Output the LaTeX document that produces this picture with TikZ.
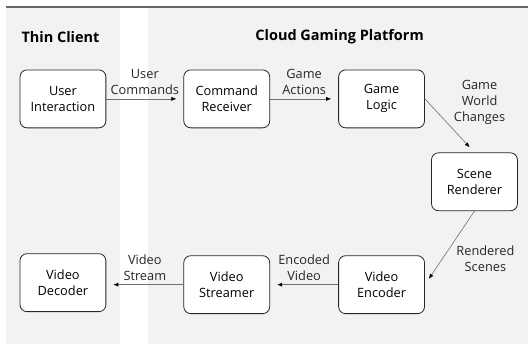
\documentclass[tikz,border=0pt]{standalone}
\usepackage{fontspec}
\setmainfont{Open Sans}
\usetikzlibrary{arrows.meta}

\definecolor{panelgray}{HTML}{F2F2F2}
\definecolor{linegray}{HTML}{707070}

\begin{document}
\begin{tikzpicture}[x=1pt, y=-1pt,
    block/.style={draw=black!85, line width=.8pt, fill=white, rounded corners=7pt,
      minimum width=86pt, minimum height=58pt, align=center,
      font=\fontsize{12.8}{16}\selectfont},
    flow/.style={draw=linegray, line width=.6pt,
      -{Latex[black, length=5pt, width=4pt]}, shorten >=7pt},
    tag/.style={align=center, font=\fontsize{12.8}{16}\selectfont, text=black!85, inner sep=1pt},
    title/.style={font=\fontsize{14.5}{17}\selectfont\bfseries}]

    % the two panels
    \fill[white] (0,0) rectangle (529,344);
    \fill[panelgray] (6,7) rectangle (120,344);
    \fill[panelgray] (148,7) rectangle (529,344);
    \draw[black!60, line width=1.2pt] (6,7) -- (529,7);

    \node[title, anchor=west] (client) at (18,37) {Thin Client};
    \node[title] (cloud) at (340,37) {Cloud Gaming Platform};

    % blocks
    \node[block] (input) at (63,99) {User\\Interaction};
    \node[block] (receiver) at (227,99) {Command\\Receiver};
    \node[block] (logic) at (382,99) {Game\\Logic};
    \node[block] (renderer) at (475,182) {Scene\\Renderer};
    \node[block] (encoder) at (382,285) {Video\\Encoder};
    \node[block] (streamer) at (227,285) {Video\\Streamer};
    \node[block] (decoder) at (63,283) {Video\\Decoder};

    % data flow
    \draw[flow] (input) -- node[tag, above=3pt] {User\\Commands} (receiver);
    \draw[flow] (receiver) -- node[tag, above=3pt] {Game\\Actions} (logic);
    \draw[flow] (logic.east) -- node[tag, pos=.5, anchor=south west, xshift=3pt] {Game\\World\\Changes} (renderer.north);
    \draw[flow] (renderer.south) -- node[tag, pos=.45, anchor=north west, xshift=3pt] {Rendered\\Scenes} (encoder.east);
    \draw[flow] (encoder) -- node[tag, above=3pt] {Encoded\\Video} (streamer);
    \draw[flow] (streamer.west) -- node[tag, above=3pt] {Video\\Stream} (streamer.west -| decoder.east);
\end{tikzpicture}
\end{document}
